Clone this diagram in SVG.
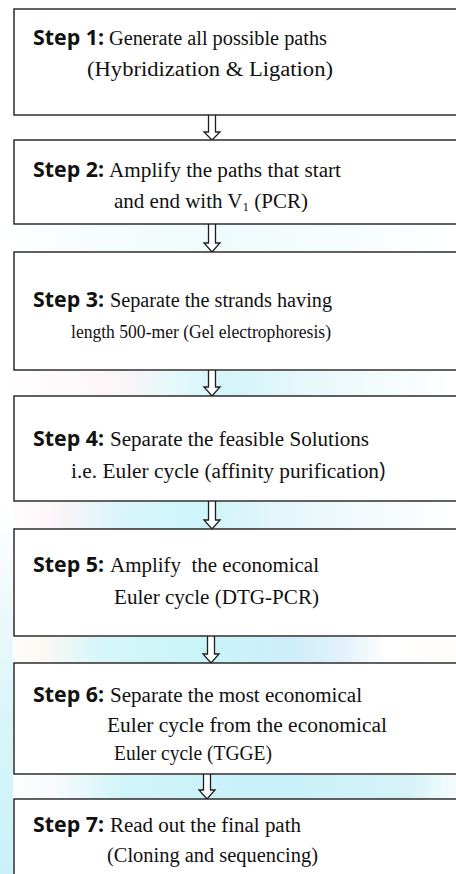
<svg xmlns="http://www.w3.org/2000/svg" width="456" height="874" viewBox="0 0 456 874">
<defs>
<linearGradient id="g2" x1="0" x2="1" y1="0" y2="0">
<stop offset="0" stop-color="#ffffff"/><stop offset="0.3" stop-color="#f3fcfd"/><stop offset="0.5" stop-color="#eefbfc"/><stop offset="1" stop-color="#ffffff"/>
</linearGradient>
<linearGradient id="g3" x1="0" x2="1" y1="0" y2="0">
<stop offset="0" stop-color="#ffffff"/><stop offset="0.25" stop-color="#fdf5f8"/><stop offset="0.38" stop-color="#e6f8fb"/><stop offset="0.5" stop-color="#d3f5f9"/><stop offset="0.7" stop-color="#eaf8fb"/><stop offset="1" stop-color="#ffffff"/>
</linearGradient>
<linearGradient id="g4" x1="0" x2="1" y1="0" y2="0">
<stop offset="0" stop-color="#ffffff"/><stop offset="0.12" stop-color="#fdf4f8"/><stop offset="0.27" stop-color="#d8f6fa"/><stop offset="0.45" stop-color="#cdf5fa"/><stop offset="0.6" stop-color="#e3f6fb"/><stop offset="0.85" stop-color="#f6fbfd"/><stop offset="1" stop-color="#ffffff"/>
</linearGradient>
<linearGradient id="g5" x1="0" x2="1" y1="0" y2="0">
<stop offset="0" stop-color="#ffffff"/><stop offset="0.1" stop-color="#fbf8f4"/><stop offset="0.22" stop-color="#d6f6f9"/><stop offset="0.45" stop-color="#c9f4f9"/><stop offset="0.65" stop-color="#cfeefa"/><stop offset="0.76" stop-color="#e4f2fb"/><stop offset="0.85" stop-color="#ffffff"/><stop offset="1" stop-color="#fffdfa"/>
</linearGradient>
<linearGradient id="g6" x1="0" x2="1" y1="0" y2="0">
<stop offset="0" stop-color="#ffffff"/><stop offset="0.12" stop-color="#f8fbfc"/><stop offset="0.27" stop-color="#d0f4f9"/><stop offset="0.6" stop-color="#c8f1fa"/><stop offset="0.9" stop-color="#d6f2f8"/><stop offset="1" stop-color="#f6fcfd"/>
</linearGradient>
<linearGradient id="gl" x1="0" x2="0" y1="0" y2="1">
<stop offset="0" stop-color="#ffffff"/><stop offset="0.25" stop-color="#eef9fc"/><stop offset="0.6" stop-color="#d8f5fa"/><stop offset="1" stop-color="#c8f2f9"/>
</linearGradient>
</defs>
<style>
.box{fill:#ffffff;stroke:#1e1e1e;stroke-width:1.4}
.arr{fill:#ffffff;stroke:#1e1e1e;stroke-width:1.3;stroke-linejoin:miter}
.lbl{font-family:"Open Sans","Liberation Sans",sans-serif;font-weight:bold;font-size:21px;fill:#111}
.txt{font-family:"Liberation Serif","Times New Roman",serif;font-size:20.5px;fill:#111}
.sans{font-family:"Open Sans","Liberation Sans",sans-serif;font-size:21px;fill:#111}
</style>
<rect x="0" y="0" width="456" height="874" fill="#ffffff"/>
<g id="watermark">
<rect x="0" y="225" width="456" height="27" fill="url(#g2)"/>
<rect x="0" y="371" width="456" height="25" fill="url(#g3)"/>
<rect x="0" y="502" width="456" height="27" fill="url(#g4)"/>
<rect x="0" y="637" width="456" height="26" fill="url(#g5)"/>
<rect x="0" y="775" width="456" height="24" fill="url(#g6)"/>
<rect x="0" y="510" width="13" height="364" fill="url(#gl)"/>
</g>
<g id="connectors">
<path class="arr" d="M208.5,115 V132 H204 L212,140 L220,132 H215.5 V115"/>
<path class="arr" d="M208.5,224 V243 H204 L212,252 L220,243 H215.5 V224"/>
<path class="arr" d="M208.5,370 V387 H204 L212,396 L220,387 H215.5 V370"/>
<path class="arr" d="M208.5,501 V520 H204 L212,529 L220,520 H215.5 V501"/>
<path class="arr" d="M207.5,636 V654 H203 L211,663 L219,654 H214.5 V636"/>
<path class="arr" d="M203.5,774 V790 H199 L207,799 L215,790 H210.5 V774"/>
</g>
<g id="step1">
<rect class="box" x="14" y="9" width="460" height="106"/>
<text class="lbl" x="33" y="45" textLength="71" lengthAdjust="spacingAndGlyphs">Step 1:</text>
<text class="txt" x="109" y="45" textLength="218" lengthAdjust="spacingAndGlyphs">Generate all possible paths</text>
<text class="txt" x="87" y="76" textLength="246" lengthAdjust="spacingAndGlyphs">(Hybridization &amp; Ligation)</text>
</g>
<g id="step2">
<rect class="box" x="14" y="140" width="460" height="84"/>
<text class="lbl" x="33" y="177" textLength="71" lengthAdjust="spacingAndGlyphs">Step 2:</text>
<text class="txt" x="109" y="177" textLength="232" lengthAdjust="spacingAndGlyphs">Amplify the paths that start</text>
<text class="txt" x="114" y="208" style="font-size:21px">and end with V<tspan style="font-size:13px" dy="3">1</tspan><tspan dy="-3"> (PCR)</tspan></text>
</g>
<g id="step3">
<rect class="box" x="14" y="252" width="460" height="118"/>
<text class="lbl" x="33" y="307" textLength="71" lengthAdjust="spacingAndGlyphs">Step 3:</text>
<text class="txt" x="110" y="307" textLength="222" lengthAdjust="spacingAndGlyphs">Separate the strands having</text>
<text class="txt" x="71" y="338" style="font-size:18.5px" textLength="260" lengthAdjust="spacingAndGlyphs">length 500-mer (Gel electrophoresis)</text>
</g>
<g id="step4">
<rect class="box" x="14" y="396" width="460" height="105"/>
<text class="lbl" x="33" y="446" textLength="71" lengthAdjust="spacingAndGlyphs">Step 4:</text>
<text class="txt" x="110" y="446" textLength="259" lengthAdjust="spacingAndGlyphs">Separate the feasible Solutions</text>
<text class="txt" x="71" y="478" textLength="308" lengthAdjust="spacingAndGlyphs">i.e. Euler cycle (affinity purification</text>
<text class="sans" x="379" y="478">)</text>
</g>
<g id="step5">
<rect class="box" x="14" y="529" width="460" height="107"/>
<text class="lbl" x="33" y="572" textLength="71" lengthAdjust="spacingAndGlyphs">Step 5:</text>
<text class="txt" x="110" y="572" xml:space="preserve" textLength="209" lengthAdjust="spacingAndGlyphs">Amplify  the economical</text>
<text class="txt" x="114" y="604" textLength="205" lengthAdjust="spacingAndGlyphs">Euler cycle (DTG-PCR)</text>
</g>
<g id="step6">
<rect class="box" x="14" y="663" width="460" height="111"/>
<text class="lbl" x="33" y="702" textLength="71" lengthAdjust="spacingAndGlyphs">Step 6:</text>
<text class="txt" x="110" y="702" textLength="252" lengthAdjust="spacingAndGlyphs">Separate the most economical</text>
<text class="txt" x="107" y="732" textLength="280" lengthAdjust="spacingAndGlyphs">Euler cycle from the economical</text>
<text class="txt" x="114" y="760" textLength="158" lengthAdjust="spacingAndGlyphs">Euler cycle (TGGE)</text>
</g>
<g id="step7">
<rect class="box" x="14" y="799" width="460" height="100"/>
<text class="lbl" x="33" y="832" textLength="71" lengthAdjust="spacingAndGlyphs">Step 7:</text>
<text class="txt" x="110" y="832" textLength="191" lengthAdjust="spacingAndGlyphs">Read out the final path</text>
<text class="txt" x="107" y="862" textLength="211" lengthAdjust="spacingAndGlyphs">(Cloning and sequencing)</text>
</g>
</svg>
